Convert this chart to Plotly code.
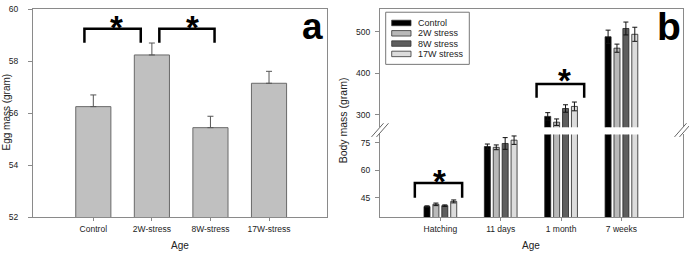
import plotly.graph_objects as go

# ---------------- data ----------------
egg_groups = ["Control", "2W-stress", "8W-stress", "17W-stress"]
egg_mass = [56.25, 58.24, 55.44, 57.15]
egg_err = [0.45, 0.46, 0.44, 0.46]

ages = ["Hatching", "11 days", "1 month", "7 weeks"]
series_names = ["Control", "2W stress", "8W stress", "17W stress"]
control = [40.2, 72.9, 296, 488]
stress_2w = [41.4, 72.5, 282, 460.5]
stress_8w = [40.7, 74.6, 315, 508]
stress_17w = [43.0, 76.4, 320, 494]
control_err = [0.4, 1.4, 9, 16]
stress_2w_err = [0.7, 1.3, 7.8, 9.8]
stress_8w_err = [0.4, 3.2, 9, 15.5]
stress_17w_err = [0.8, 2.3, 10.6, 17]

egg_ticks = [52, 54, 56, 58, 60]
body_ticks_low = [45, 60, 75]
body_ticks_high = [300, 400, 500]

# ---------------- styling ----------------
FONT = "Liberation Sans, Arial, sans-serif"
TXT = "#222222"
AX = "#8a8a8a"
W, H = 689, 253
ML, MR, MT, MB = 33, 6, 4, 36
PW, PH = W - ML - MR, H - MT - MB


def px(x):
    return (x - ML) / PW


def py(y):
    return (H - MB - y) / PH


fill_colors = ["#000000", "#b9b9b9", "#5e5e5e", "#dcdcdc"]
series_vals = [control, stress_2w, stress_8w, stress_17w]
series_errs = [control_err, stress_2w_err, stress_8w_err, stress_17w_err]

fig = go.Figure()

# panel a (upper error bars only)
fig.add_trace(go.Bar(
    x=egg_groups, y=egg_mass, width=0.6,
    marker=dict(color="#c0c0c0", line=dict(color="#6a6a6a", width=1)),
    error_y=dict(type="data", array=egg_err, arrayminus=[0] * len(egg_err),
                 symmetric=False, color="#555555", thickness=1, width=3),
    xaxis="x", yaxis="y", showlegend=False,
))

# panel b (drawn on lower and upper segments of the broken axis)
bar_w = 0.0995
pitch = 0.1475
start = -(3 * pitch + bar_w) / 2
for i, (name, vals, errs, col) in enumerate(zip(series_names, series_vals, series_errs, fill_colors)):
    for xa, ya in (("x2", "y2"), ("x3", "y3")):
        fig.add_trace(go.Bar(
            x=ages, y=vals, name=name, width=bar_w, offset=start + i * pitch,
            marker=dict(color=col, line=dict(color="#222222", width=0.8)),
            error_y=dict(type="data", array=errs, symmetric=True, color="#111111",
                         thickness=1, width=2.5),
            xaxis=xa, yaxis=ya, showlegend=False,
        ))

tickfont = dict(family=FONT, size=8.5, color=TXT)
common_x = dict(showline=True, linecolor=AX, linewidth=1, ticks="outside", ticklen=3,
                tickcolor=AX, tickfont=tickfont, showgrid=False, zeroline=False,
                ticklabelstandoff=1)
common_y = dict(showline=True, linecolor=AX, linewidth=1, ticks="outside", ticklen=4,
                tickcolor=AX, tickfont=tickfont, showgrid=False, zeroline=False,
                ticklabeloverflow="allow")

fig.update_layout(
    width=W, height=H, margin=dict(l=ML, r=MR, t=MT, b=MB),
    paper_bgcolor="white", plot_bgcolor="white",
    barmode="overlay", showlegend=False,
    font=dict(family=FONT, color=TXT),
    xaxis=dict(domain=[0, px(327)], anchor="y", type="category",
               range=[-1.03, 3.99], mirror=True, **common_x),
    yaxis=dict(domain=[0, 1], anchor="x", range=[52, 60.01], tickvals=egg_ticks,
               mirror=True, ticklabelstandoff=8, **common_y),
    xaxis2=dict(domain=[px(380), 1], anchor="y2", type="category",
                range=[-1.0, 4.02], **common_x),
    yaxis2=dict(domain=[0, py(132.5)], anchor="x2", range=[34.5, 79.5],
                tickvals=body_ticks_low, mirror=True, ticklabelstandoff=3, **common_y),
    xaxis3=dict(domain=[px(380), 1], anchor="y3", type="category", matches="x2",
                range=[-1.0, 4.02], side="top", showline=True, linecolor=AX,
                linewidth=1, ticks="", showticklabels=False, showgrid=False),
    yaxis3=dict(domain=[py(125), 1], anchor="x3", range=[270, 555],
                tickvals=body_ticks_high, mirror=True, ticklabelstandoff=3, **common_y),
)

shapes = []
# significance brackets (panel a)
for x0, x1 in ((-0.152, 0.81), (1.127, 2.07)):
    shapes.append(dict(type="path", xref="x", yref="y",
                       path=f"M {x0},58.71 L {x0},59.25 L {x1},59.25 L {x1},58.71",
                       line=dict(color="black", width=2.5)))
# panel b brackets
shapes.append(dict(type="path", xref="x2", yref="y2",
                   path="M -0.423,45 L -0.423,53 L 0.361,53 L 0.361,45",
                   line=dict(color="black", width=2.5)))
shapes.append(dict(type="path", xref="x3", yref="y3",
                   path="M 1.594,341 L 1.594,374 L 2.383,374 L 2.383,341",
                   line=dict(color="black", width=2.5)))

# axis-break marks
for cx in (380, 683):
    for dx in (-2.5, 2.5):
        shapes.append(dict(type="line", xref="paper", yref="paper",
                           x0=px(cx + dx - 6), y0=py(135), x1=px(cx + dx + 6), y1=py(121),
                           line=dict(color="#666666", width=1)))

# legend (drawn)
shapes.append(dict(type="rect", xref="paper", yref="paper",
                   x0=px(385.7), x1=px(469.3), y0=py(60.7), y1=py(7.3),
                   line=dict(color="#777777", width=1), fillcolor="white"))
leg_y = [18.3, 28.9, 39.4, 50.0]
annotations = []
for name, col, ly in zip(series_names, fill_colors, leg_y):
    shapes.append(dict(type="rect", xref="paper", yref="paper",
                       x0=px(391.7), x1=px(411), y0=py(ly + 2.8), y1=py(ly - 2.8),
                       line=dict(color="#333333", width=0.8), fillcolor=col))
    annotations.append(dict(text=name, xref="paper", yref="paper", x=px(415.5), y=py(ly),
                            xanchor="left", yanchor="middle", showarrow=False,
                            font=dict(family=FONT, size=9, color=TXT)))

fig.update_layout(shapes=shapes)

star = dict(family="Liberation Sans, Arial, sans-serif", size=33, color="black")
annotations += [
    dict(text="<b>*</b>", xref="x", yref="y", x=0.39, y=59.25, xanchor="center",
         yanchor="bottom", yshift=-19, showarrow=False, font=star),
    dict(text="<b>*</b>", xref="x", yref="y", x=1.69, y=59.25, xanchor="center",
         yanchor="bottom", yshift=-19, showarrow=False, font=star),
    dict(text="<b>*</b>", xref="x2", yref="y2", x=-0.013, y=53, xanchor="center",
         yanchor="bottom", yshift=-19, showarrow=False, font=star),
    dict(text="<b>*</b>", xref="x3", yref="y3", x=2.06, y=374, xanchor="center",
         yanchor="bottom", yshift=-17, showarrow=False, font=star),
    # panel letters
    dict(text="<b>a</b>", xref="paper", yref="paper", x=px(312), y=py(36),
         xanchor="center", yanchor="bottom", yshift=-9, showarrow=False,
         font=dict(family=FONT, size=37, color="black")),
    dict(text="<b>b</b>", xref="paper", yref="paper", x=px(668.7), y=py(36.7),
         xanchor="center", yanchor="bottom", yshift=-9, showarrow=False,
         font=dict(family=FONT, size=39, color="black")),
    # axis titles
    dict(text="Egg mass (gram)", xref="paper", yref="paper", x=px(7), y=py(110),
         xanchor="center", yanchor="middle", textangle=-90, showarrow=False,
         font=dict(family=FONT, size=10, color=TXT)),
    dict(text="Body mass (gram)", xref="paper", yref="paper", x=px(343), y=py(118),
         xanchor="center", yanchor="middle", textangle=-90, showarrow=False,
         font=dict(family=FONT, size=10.5, color=TXT)),
    dict(text="Age", xref="paper", yref="paper", x=px(180), y=py(246),
         xanchor="center", yanchor="middle", showarrow=False,
         font=dict(family=FONT, size=10, color=TXT)),
    dict(text="Age", xref="paper", yref="paper", x=px(531), y=py(246),
         xanchor="center", yanchor="middle", showarrow=False,
         font=dict(family=FONT, size=10, color=TXT)),
]
fig.update_layout(annotations=annotations)

fig.write_html("out.html", config={"displayModeBar": False},
               post_script="document.body.style.margin='0';document.body.style.overflow='hidden';")
